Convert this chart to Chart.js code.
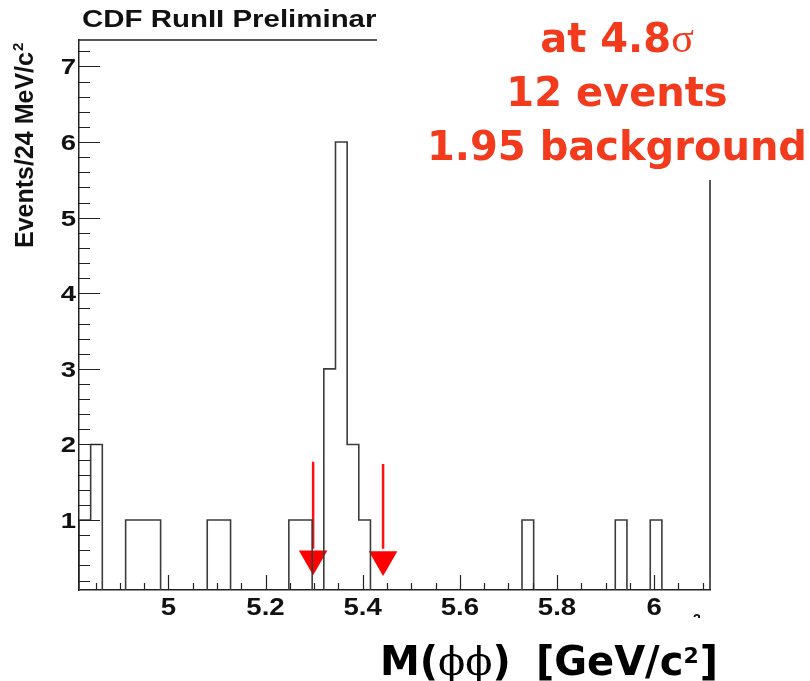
<!DOCTYPE html>
<html>
<head>
<meta charset="utf-8">
<script src="https://cdn.jsdelivr.net/npm/chart.js@4/dist/chart.umd.min.js"></script>
<style>
  html, body { margin: 0; padding: 0; background: #fff; }
  canvas { display: block; }
</style>
</head>
<body>
<canvas id="my_chart" width="810" height="681"></canvas>
<script>
(function() {
  'use strict';

  // histogram: 24 MeV/c^2 bins starting at 4.816 GeV/c^2
  var binStart = 4.816;
  var binWidth = 0.024;
  var counts = [
    1, 2, 0, 0, 1, 1, 1, 0, 0, 0,
    0, 1, 1, 0, 0, 0, 0, 0, 1, 1,
    0, 3, 6, 2, 1, 0, 0, 0, 0, 0,
    0, 0, 0, 0, 0, 0, 0, 0, 1, 0,
    0, 0, 0, 0, 0, 0, 1, 0, 0, 1,
    0, 0, 0, 0
  ];

  // axis labels
  var xTickValues = [5, 5.2, 5.4, 5.6, 5.8, 6];
  var xTickLabels = ['5', '5.2', '5.4', '5.6', '5.8', '6'];
  var yTickValues = [1, 2, 3, 4, 5, 6, 7];
  var yTickLabels = ['1', '2', '3', '4', '5', '6', '7'];

  // signal window arrows
  var windowEdges = [5.298, 5.442];
  var arrowTops   = [1.77, 1.74];
  var arrowEnds   = [0.62, 0.62];
  var arrowHeads  = [0.49, 0.48];

  var infoLines = ['12 events', '1.95 background'];

  var doc = document;
  var red = '#f23a1c';

  // step outline points (one per bin edge)
  var histPoints = [{x: binStart, y: 0}];
  for (var i = 0; i < counts.length; i++) {
    histPoints.push({x: binStart + binWidth * i, y: counts[i]});
  }
  histPoints.push({x: binStart + binWidth * counts.length, y: counts[counts.length - 1]});
  histPoints.push({x: binStart + binWidth * counts.length, y: 0});

  var datasets = [{
    data: histPoints,
    stepped: true,
    borderColor: '#3c3c3c',
    borderWidth: 1.6,
    pointRadius: 0,
    fill: false
  }];
  for (var a = 0; a < windowEdges.length; a++) {
    datasets.push({
      data: [{x: windowEdges[a], y: arrowTops[a]}, {x: windowEdges[a], y: arrowEnds[a]}],
      borderColor: '#ff1010',
      borderWidth: 2.5,
      pointRadius: 0,
      fill: false
    });
  }
  datasets.push({
    data: windowEdges.map(function(x, k) { return {x: x, y: arrowHeads[k]}; }),
    showLine: false,
    pointStyle: 'triangle',
    rotation: 180,
    pointRadius: 16.5,
    pointBackgroundColor: '#ff0000',
    pointBorderWidth: 0,
    clip: false
  });

  function stretchText(ctx, str, x, y, font, align, sx) {
    ctx.save();
    ctx.font = font;
    ctx.textAlign = align;
    ctx.textBaseline = 'alphabetic';
    ctx.translate(x, y);
    ctx.scale(sx, 1);
    ctx.fillText(str, 0, 0);
    ctx.restore();
  }

  // frame, ROOT style ticks and all the text
  var decorations = {
    id: 'decorations',
    afterDraw: function(chart) {
      var ctx = chart.ctx;
      var xs = chart.scales.x, ys = chart.scales.y;
      var area = chart.chartArea;
      var v, px, k;

      ctx.save();
      ctx.strokeStyle = '#222';
      ctx.lineWidth = 1.2;
      ctx.beginPath();
      // x minor ticks every 0.05, major every 0.2
      for (k = 97; k <= 122; k++) {
        v = k * 0.05;
        px = Math.round(xs.getPixelForValue(v)) + 0.5;
        var len = (k % 4 === 0) ? 15 : 7;
        ctx.moveTo(px, area.bottom);
        ctx.lineTo(px, area.bottom - len);
      }
      // y minor ticks every 0.2, major every 1
      for (k = 1; k <= 36; k++) {
        v = k * 0.2;
        px = Math.round(ys.getPixelForValue(v)) + 0.5;
        var ylen = (k % 5 === 0) ? 21 : 11;
        ctx.moveTo(area.left, px);
        ctx.lineTo(area.left + ylen, px);
      }
      ctx.stroke();

      // top and right side of the frame (partly hidden by the text box)
      ctx.lineWidth = 1.5;
      ctx.beginPath();
      ctx.moveTo(area.left, area.top);
      ctx.lineTo(377, area.top);
      ctx.moveTo(area.right, 180);
      ctx.lineTo(area.right, area.bottom);
      ctx.stroke();

      // tick labels
      ctx.fillStyle = '#111';
      xTickValues.forEach(function(val, j) {
        stretchText(ctx, xTickLabels[j], xs.getPixelForValue(val), 614.5,
          'bold 23px "Liberation Sans"', 'center', 1.2);
      });
      yTickValues.forEach(function(val, j) {
        stretchText(ctx, yTickLabels[j], 76, ys.getPixelForValue(val) + 7.9,
          'bold 22px "Liberation Sans"', 'right', 1.25);
      });

      // header
      stretchText(ctx, 'CDF RunII Preliminar', 82, 26.5, 'bold 23px "Liberation Sans"', 'left', 1.28);

      // y title
      ctx.save();
      ctx.translate(33, 248);
      ctx.rotate(-Math.PI / 2);
      ctx.font = 'bold 25px "Liberation Sans"';
      ctx.textAlign = 'left';
      ctx.fillText('Events/24 MeV/c', 0, 0);
      var tw = ctx.measureText('Events/24 MeV/c').width;
      ctx.font = 'bold 15px "Liberation Sans"';
      ctx.fillText('2', tw + 1, -10);
      ctx.restore();

      // leftover of the original axis title
      ctx.font = 'bold 14px "Liberation Sans"';
      ctx.textAlign = 'left';
      ctx.fillText('2', 693, 624);
      ctx.fillStyle = '#fff';
      ctx.fillRect(600, 618, 210, 63);

      // x title: M(phi phi) [GeV/c2]
      var segs = [
        ['M(', 'bold 40px "DejaVu Sans"', 0],
        ['\u03d5\u03d5', '40px "DejaVu Serif"', 0],
        [') [GeV/c', 'bold 40px "DejaVu Sans"', 0],
        ['2', 'bold 22px "DejaVu Sans"', -12],
        [']', 'bold 40px "DejaVu Sans"', 0]
      ];
      var cx = 380;
      ctx.fillStyle = '#000';
      ctx.textAlign = 'left';
      segs.forEach(function(s, n) {
        ctx.font = s[1];
        var txt = s[0];
        if (n === 2) {
          // wider gap between ")" and "["
          ctx.fillText(')', cx, 675);
          cx += ctx.measureText(')').width + 25;
          txt = '[GeV/c';
        }
        ctx.fillText(txt, cx, 675 + s[2]);
        cx += ctx.measureText(txt).width + (n === 3 ? 1 : 0);
      });

      // red summary box
      ctx.fillStyle = red;
      ctx.textAlign = 'left';
      ctx.font = 'bold 40px "DejaVu Sans"';
      var w1 = ctx.measureText('at 4.8').width;
      ctx.font = '42px "Liberation Serif"';
      var w2 = ctx.measureText('\u03c3').width;
      var x0 = 617 - (w1 + w2) / 2;
      ctx.font = 'bold 40px "DejaVu Sans"';
      ctx.fillText('at 4.8', x0, 52);
      ctx.font = '42px "Liberation Serif"';
      ctx.fillText('\u03c3', x0 + w1, 52);
      ctx.font = 'bold 40px "DejaVu Sans"';
      ctx.textAlign = 'center';
      ctx.fillText(infoLines[0], 617, 106);
      ctx.fillText(infoLines[1], 617, 160);
      ctx.restore();
    }
  };

  var ctx = doc.getElementById('my_chart').getContext('2d');
  var myChart = new Chart(ctx, {
    type: 'line',
    data: { datasets: datasets },
    options: {
      responsive: false,
      animation: false,
      layout: { padding: { left: 79, right: 100, top: 40, bottom: 91 } },
      plugins: { legend: { display: false }, tooltip: { enabled: false } },
      scales: {
        x: {
          type: 'linear',
          min: 4.816,
          max: 6.115,
          grid: { display: false },
          ticks: { display: false },
          border: { display: true, color: '#222', width: 1.5 },
          afterFit: function(scale) { scale.height = 0; }
        },
        y: {
          type: 'linear',
          min: 0.075,
          max: 7.35,
          grid: { display: false },
          ticks: { display: false },
          border: { display: true, color: '#222', width: 1.5 },
          afterFit: function(scale) { scale.width = 0; }
        }
      }
    },
    plugins: [decorations]
  });
})();
</script>
</body>
</html>
